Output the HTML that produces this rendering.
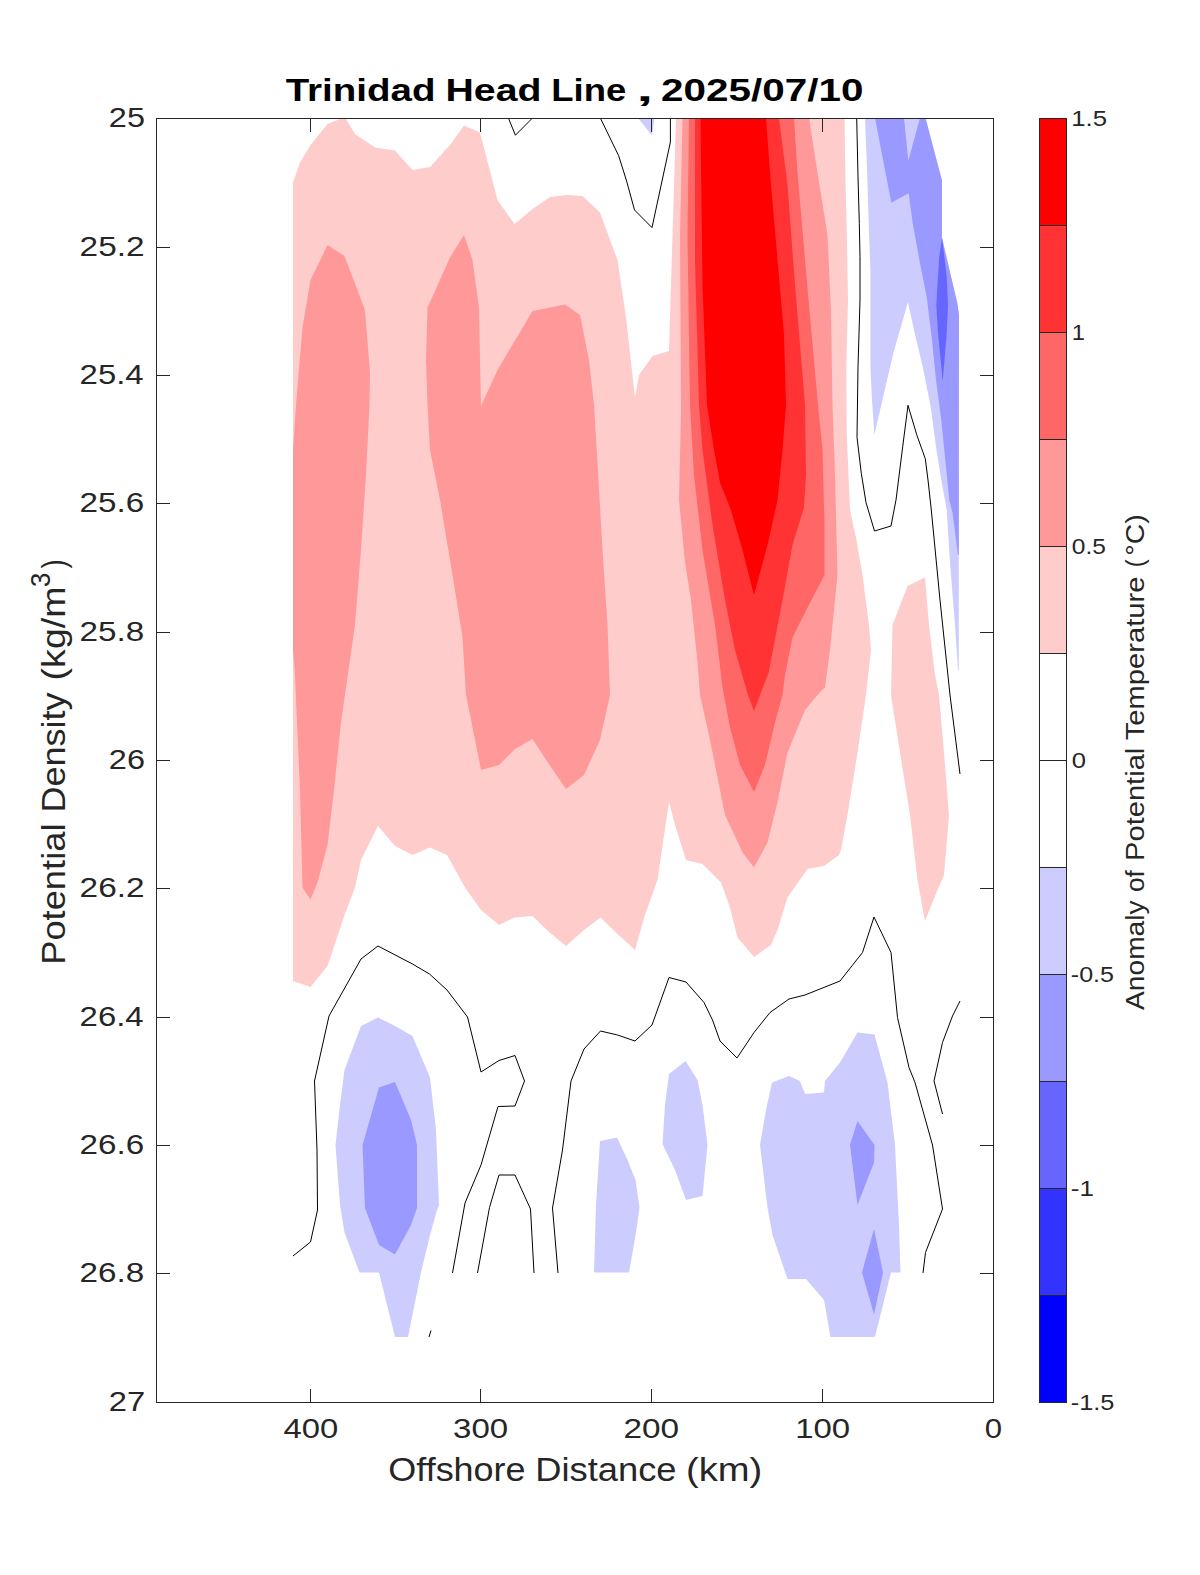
<!DOCTYPE html>
<html lang="en">
<head>
<meta charset="utf-8">
<title>Trinidad Head Line , 2025/07/10</title>
<style>
html,body{margin:0;padding:0;background:#fff;}
body{width:1200px;height:1575px;overflow:hidden;font-family:"Liberation Sans",sans-serif;}
svg{display:block;}
text{font-family:"Liberation Sans",sans-serif;fill:#262626;}
.ttl{font-weight:bold;fill:#000;}
.zl{fill:none;stroke:#000;stroke-width:1;stroke-linejoin:miter;}
.ax{stroke:#262626;stroke-width:1;fill:none;shape-rendering:crispEdges;}
</style>
</head>
<body>
<svg width="1200" height="1575" viewBox="0 0 1200 1575">
<rect x="0" y="0" width="1200" height="1575" fill="#ffffff"/>
<clipPath id="cp"><rect x="156" y="118" width="838" height="1285"/></clipPath>
<g clip-path="url(#cp)">
<polygon fill="#ffcccc" points="293,182.5 300,162.5 310.5,145 327.5,124 340,119 346,119 355,134 375,147.5 395,150.5 412.5,170 430,167 450,145 464,125.5 480,132.5 497.5,200 514.5,224 532.5,209 550,197 567.5,195 582.5,196 600,212.5 617.5,260 626,317.5 635,397.5 639,375 652.5,356 669,351 672.5,235 676,118 844.5,118 845.5,180 847,243 848,300 846.3,366 846.7,433 850,510 856,537.5 862.5,575 869,625 871,650 866,695 857.5,752.5 847.5,815 841,850 839,855 824,866 807.5,869 787.5,897.5 777.5,930 771,945 754,957 737.5,937.5 730,907.5 721,882.5 702.5,864 686,860 675,825 669,802 657.5,880 645,915 635,950 617.5,934 600.5,917.5 584,930 566,946 549.5,932.5 532.5,916 515,917.5 499,925 481,910 465,887.5 447,855 430,847.5 412.5,855 395,846 378,826 361,860 355,887.5 344.5,915 327.5,966 310.5,987 293,981"/>
<polygon fill="#ffcccc" points="925,577.5 907.5,586 892.5,625 891,695 900,752.5 910,815 917.5,880 925,921 937.5,890 944,875 949,815 944,752.5 939,695 935,675 929,625"/>
<polygon fill="#ff9999" points="327.5,245 344.5,256 365,310 370,372.5 369.5,405 366,475 361,550 355,625 346,687.5 341,722.5 334,790 327.5,845 317.5,882.5 310.5,899.5 302.5,887.5 300,790 296,700 295,675 293,650 293,450 296,405 302.5,327.5 310.5,280"/>
<polygon fill="#ff9999" points="464,235 472.5,260 479,307.5 480,360 481,406 497.5,370 532.5,311 565,304.5 580,315 589,360 594,405 597.5,462.5 602.5,550 607.5,625 610,695 600,740 584,775 566,789 549.5,765 532.5,739 515,749 499,765 481,770 472.5,727.5 466,695 462.5,637.5 452.5,575 440,500 430,450 427.5,405 426,360 427.5,307.5 450,257.5"/>
<polygon fill="#ff9999" points="682.5,118 680,235 681,410 679,500 685,562.5 691,600 697.5,662.5 700,695 710,740 725,815 742.5,852.5 754,867.5 767.5,842.5 777.5,802.5 787.5,752.5 805,710 820,692 825,687.5 830,650 837.5,575 835,475 832.5,405 831,310 827.5,235 817.5,172.5 809,118"/>
<polygon fill="#ff6666" points="689,118 687.5,235 690,405 694,475 702.5,550 715,625 722.5,687.5 730,727.5 740,765 754,792 765,765 775,722.5 782.5,695 785,675 792.5,637.5 805,612.5 824.5,575 824.5,525 822.5,450 818,405 805,260 797.5,172.5 794,118"/>
<polygon fill="#ff3333" points="695,118 695,260 699,405 702.5,450 712.5,525 725,600 735,650 748,695 754,711 760,695 768.5,673 782.5,600 792.5,545 804,507.5 806,475 805,405 795,285 787.5,185 779,118"/>
<polygon fill="#ff0000" points="700.5,118 702.5,285 707,405 714,450 720,482.5 731,510 742.5,550 754,595 767.5,545 777.5,500 782.5,450 786,405 784,335 777.5,260 770,172.5 766,118"/>
<polygon fill="#ccccff" points="865,118 925.5,118 942,180.7 942,238 957.3,303.3 959,315 958.8,410 958.8,670 958,670 955,625 950,562.5 946.7,510 941.3,480 936,446.7 930.7,406.7 922.7,366.7 914.7,333.3 908,302 893.3,353.3 884,393.3 874.4,434.7 872,400 870.4,366.7 870.4,270 868.7,223.3 867.3,176.7"/>
<polygon fill="#9999ff" points="875,118 891.3,202.7 908.7,193.3 912.7,223.3 920,263.3 926.7,296.7 932,340 936,380 941.3,420 945.3,460 949.3,500 952.5,512.5 958,555 958.8,555 958.8,410 959,315 957.3,303.3 942,238 942,180.7 925.5,118 920,118 908.3,160.7 904,118"/>
<polygon fill="#6666ff" points="942,238 939.3,256.7 938,276.7 936.3,305 938,333 941.3,366.7 942.7,381.3 946.7,333.3 948,305 946.7,276.7 944,254"/>
<polygon fill="#ccccff" points="638,118 652,135.6 654.6,118"/>
<polygon fill="#ccccff" points="378,1017.5 395,1026 412.5,1036 430,1077.5 436,1130 439,1205 437,1210 430,1235 421,1272.5 408,1337 395,1337 379,1272.5 359.5,1272.5 344.5,1232.5 340,1205 335.5,1145 340,1105 344.5,1070 361,1026"/>
<polygon fill="#9999ff" points="395,1082 411,1120 417,1145 417,1208 411,1225 395,1254.5 379,1245 365,1208 362.5,1145 379,1087.5"/>
<polygon fill="#ccccff" points="600,1141 617,1137.5 627.5,1160 635.5,1180 639.5,1207.5 636,1232.5 629,1272.5 594,1272.5 596,1205"/>
<polygon fill="#ccccff" points="685.5,1061 697.5,1080 702.5,1105 707.5,1145 702.5,1196 686,1200 675,1170 662.5,1144 665,1105 669,1074"/>
<polygon fill="#ccccff" points="789,1076 800,1081 805,1094 824,1092.5 825,1081 840,1062.5 857.5,1032.5 874.5,1034.5 887.5,1082.5 895,1145 899,1225 900.5,1272.5 891,1272.5 875,1337 830.5,1337 824,1300 806,1279 787.5,1279 772.5,1235 767.5,1207.5 760,1145 766,1110 772,1082.5"/>
<polygon fill="#9999ff" points="857.5,1121 874.5,1145 874,1162.5 857.5,1205 850,1145"/>
<polygon fill="#9999ff" points="874,1229 883,1272.5 874,1314.5 862,1272.5"/>
<polyline class="zl" points="508.4,118 515.4,135.2 532.5,118"/>
<polyline class="zl" points="600.3,118 618.7,155.8 626.6,181 634.5,210 652,227.6 670.4,142 670.4,118"/>
<polyline class="zl" points="856.7,118 858,176.7 859.3,223.3 860,256.7 860,300 858,366.7 857,437.3 861.3,473.3 866,502.5 874.5,531 891,526 896,500 902.7,446.7 908,405.3 916.7,434.7 925.3,458.7 928,480 931.3,510 940,600 950,695 960,774"/>
<polyline class="zl" points="293,1256 310.5,1242 317.5,1210 317,1150 314.5,1081 329,1016 361,959 378,946 412.5,964 429.5,974 447,990 467.5,1017 481,1072 499,1060.5 515,1055.5 524.5,1081 515,1106 498,1106.5 481,1165 465,1203 452.5,1273"/>
<polyline class="zl" points="477.5,1273 489.5,1207.5 499,1175 515,1175 530.5,1209 534,1273"/>
<polyline class="zl" points="558,1273 552.5,1208 562.5,1150 571,1081 584,1049 600.5,1031 617.5,1035 635,1041 652,1025 669,977.5 686,982 704,1002.5 712.5,1020 720,1041 737,1058 754,1032.5 770,1012.5 789,999 805,995 840,981 862.5,952.5 874,917 891,952.5 897.5,1017.5 909,1067.5 915,1082.5 932.5,1145 942.5,1209 925.5,1252.5 923,1273"/>
<polyline class="zl" points="960,1001 952.5,1016 942.5,1042.5 934,1081 942.5,1114"/>
<polyline class="zl" points="431,1330.5 429,1337"/>
</g>
<rect class="ax" x="156.5" y="118.5" width="837" height="1284"/>
<path class="ax" d="M822.5 118v14M822.5 1403v-14"/>
<path class="ax" d="M651.5 118v14M651.5 1403v-14"/>
<path class="ax" d="M480.5 118v14M480.5 1403v-14"/>
<path class="ax" d="M310.5 118v14M310.5 1403v-14"/>
<path class="ax" d="M156 247.5h14M994 247.5h-14"/>
<path class="ax" d="M156 375.5h14M994 375.5h-14"/>
<path class="ax" d="M156 503.5h14M994 503.5h-14"/>
<path class="ax" d="M156 632.5h14M994 632.5h-14"/>
<path class="ax" d="M156 760.5h14M994 760.5h-14"/>
<path class="ax" d="M156 888.5h14M994 888.5h-14"/>
<path class="ax" d="M156 1017.5h14M994 1017.5h-14"/>
<path class="ax" d="M156 1145.5h14M994 1145.5h-14"/>
<path class="ax" d="M156 1273.5h14M994 1273.5h-14"/>
<rect x="1039.5" y="118.5" width="27" height="107" fill="#ff0000"/>
<rect x="1039.5" y="225.5" width="27" height="107" fill="#ff3333"/>
<rect x="1039.5" y="332.5" width="27" height="107" fill="#ff6666"/>
<rect x="1039.5" y="439.5" width="27" height="107" fill="#ff9999"/>
<rect x="1039.5" y="546.5" width="27" height="107" fill="#ffcccc"/>
<rect x="1039.5" y="653.5" width="27" height="107" fill="#ffffff"/>
<rect x="1039.5" y="760.5" width="27" height="107" fill="#ffffff"/>
<rect x="1039.5" y="867.5" width="27" height="107" fill="#ccccff"/>
<rect x="1039.5" y="974.5" width="27" height="107" fill="#9999ff"/>
<rect x="1039.5" y="1081.5" width="27" height="107" fill="#6666ff"/>
<rect x="1039.5" y="1188.5" width="27" height="107" fill="#3333ff"/>
<rect x="1039.5" y="1295.5" width="27" height="107" fill="#0000ff"/>
<path class="ax" d="M1039.5 225.5h27"/>
<path class="ax" d="M1039.5 332.5h27"/>
<path class="ax" d="M1039.5 439.5h27"/>
<path class="ax" d="M1039.5 546.5h27"/>
<path class="ax" d="M1039.5 653.5h27"/>
<path class="ax" d="M1039.5 760.5h27"/>
<path class="ax" d="M1039.5 867.5h27"/>
<path class="ax" d="M1039.5 974.5h27"/>
<path class="ax" d="M1039.5 1081.5h27"/>
<path class="ax" d="M1039.5 1188.5h27"/>
<path class="ax" d="M1039.5 1295.5h27"/>
<rect class="ax" x="1039.5" y="118.5" width="27" height="1284"/>
<text x="285.70" y="101.3" font-size="32" class="ttl" textLength="149.75" lengthAdjust="spacingAndGlyphs">Trinidad</text>
<text x="445.54" y="101.3" font-size="32" class="ttl" textLength="95.92" lengthAdjust="spacingAndGlyphs">Head</text>
<text x="551.24" y="101.3" font-size="32" class="ttl" textLength="74.94" lengthAdjust="spacingAndGlyphs">Line</text>
<text x="636.40" y="101.3" font-size="32" class="ttl" textLength="16.60" lengthAdjust="spacingAndGlyphs">,</text>
<text x="661.14" y="101.3" font-size="32" class="ttl" textLength="202.24" lengthAdjust="spacingAndGlyphs">2025/07/10</text>
<text x="108.86" y="127.4" font-size="28" textLength="36.08" lengthAdjust="spacingAndGlyphs">25</text>
<text x="79.61" y="256.4" font-size="28" textLength="64.98" lengthAdjust="spacingAndGlyphs">25.2</text>
<text x="79.64" y="384.4" font-size="28" textLength="64.04" lengthAdjust="spacingAndGlyphs">25.4</text>
<text x="79.62" y="512.4" font-size="28" textLength="64.66" lengthAdjust="spacingAndGlyphs">25.6</text>
<text x="79.62" y="641.4" font-size="28" textLength="64.66" lengthAdjust="spacingAndGlyphs">25.8</text>
<text x="108.86" y="769.4" font-size="28" textLength="36.08" lengthAdjust="spacingAndGlyphs">26</text>
<text x="79.61" y="897.4" font-size="28" textLength="64.98" lengthAdjust="spacingAndGlyphs">26.2</text>
<text x="79.64" y="1026.4" font-size="28" textLength="64.04" lengthAdjust="spacingAndGlyphs">26.4</text>
<text x="79.62" y="1154.4" font-size="28" textLength="64.66" lengthAdjust="spacingAndGlyphs">26.6</text>
<text x="79.62" y="1282.4" font-size="28" textLength="64.66" lengthAdjust="spacingAndGlyphs">26.8</text>
<text x="108.85" y="1411.4" font-size="28" textLength="36.39" lengthAdjust="spacingAndGlyphs">27</text>
<text x="283.42" y="1438.3" font-size="28" textLength="54.71" lengthAdjust="spacingAndGlyphs">400</text>
<text x="453.12" y="1438.3" font-size="28" textLength="55.01" lengthAdjust="spacingAndGlyphs">300</text>
<text x="623.51" y="1438.3" font-size="28" textLength="55.64" lengthAdjust="spacingAndGlyphs">200</text>
<text x="795.26" y="1438.3" font-size="28" textLength="54.87" lengthAdjust="spacingAndGlyphs">100</text>
<text x="984.89" y="1438.3" font-size="28" textLength="17.31" lengthAdjust="spacingAndGlyphs">0</text>
<text x="388.37" y="1480.6" font-size="33" textLength="137.23" lengthAdjust="spacingAndGlyphs">Offshore</text>
<text x="535.27" y="1480.6" font-size="33" textLength="141.26" lengthAdjust="spacingAndGlyphs">Distance</text>
<text x="685.99" y="1480.6" font-size="33" textLength="76.29" lengthAdjust="spacingAndGlyphs">(km)</text>
<text x="64.9" y="964.83" font-size="33" transform="rotate(-90 64.9 964.83)" textLength="141.33" lengthAdjust="spacingAndGlyphs">Potential</text>
<text x="64.9" y="812.61" font-size="33" transform="rotate(-90 64.9 812.61)" textLength="120.26" lengthAdjust="spacingAndGlyphs">Density</text>
<text x="64.9" y="680.38" font-size="33" transform="rotate(-90 64.9 680.38)" textLength="93.94" lengthAdjust="spacingAndGlyphs">(kg/m</text>
<text x="50.2" y="586.95" font-size="27.5" transform="rotate(-90 50.2 586.95)" textLength="14.26" lengthAdjust="spacingAndGlyphs">3</text>
<text x="64.9" y="568.41" font-size="33" transform="rotate(-90 64.9 568.41)" textLength="9.30" lengthAdjust="spacingAndGlyphs">)</text>
<text x="1071.21" y="126.4" font-size="21.5" textLength="35.76" lengthAdjust="spacingAndGlyphs">1.5</text>
<text x="1071.87" y="340.4" font-size="21.5" textLength="13.20" lengthAdjust="spacingAndGlyphs">1</text>
<text x="1071.75" y="554.4" font-size="21.5" textLength="34.07" lengthAdjust="spacingAndGlyphs">0.5</text>
<text x="1071.71" y="768.4" font-size="21.5" textLength="14.25" lengthAdjust="spacingAndGlyphs">0</text>
<text x="1070.83" y="982.4" font-size="21.5" textLength="43.20" lengthAdjust="spacingAndGlyphs">-0.5</text>
<text x="1070.79" y="1196.4" font-size="21.5" textLength="23.06" lengthAdjust="spacingAndGlyphs">-1</text>
<text x="1070.82" y="1410.4" font-size="21.5" textLength="43.63" lengthAdjust="spacingAndGlyphs">-1.5</text>
<text x="1144" y="1009.90" font-size="26" transform="rotate(-90 1144 1009.90)" textLength="109.47" lengthAdjust="spacingAndGlyphs">Anomaly</text>
<text x="1144" y="892.01" font-size="26" transform="rotate(-90 1144 892.01)" textLength="21.95" lengthAdjust="spacingAndGlyphs">of</text>
<text x="1144" y="860.92" font-size="26" transform="rotate(-90 1144 860.92)" textLength="113.21" lengthAdjust="spacingAndGlyphs">Potential</text>
<text x="1144" y="740.26" font-size="26" transform="rotate(-90 1144 740.26)" textLength="163.73" lengthAdjust="spacingAndGlyphs">Temperature</text>
<text x="1144" y="567.36" font-size="26" transform="rotate(-90 1144 567.36)" textLength="7.84" lengthAdjust="spacingAndGlyphs">(</text>
<text x="1144" y="555.64" font-size="26" transform="rotate(-90 1144 555.64)" textLength="41.49" lengthAdjust="spacingAndGlyphs">°C)</text>
</svg>
</body>
</html>
